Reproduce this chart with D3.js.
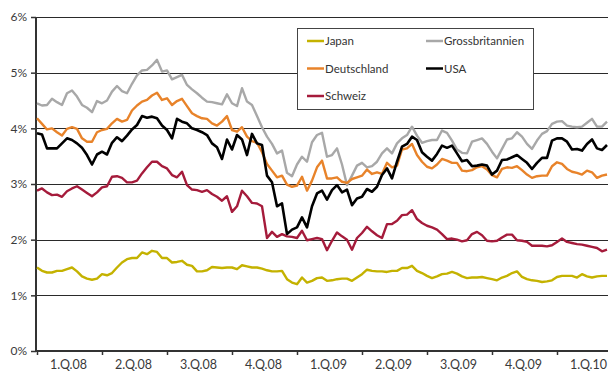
<!DOCTYPE html>
<html>
<head>
<meta charset="utf-8">
<script src="https://cdnjs.cloudflare.com/ajax/libs/d3/7.8.5/d3.min.js"></script>
<style>
  body { margin: 0; background: #fff; }
  svg { display: block; font-family: Lato, "Open Sans", sans-serif; }
</style>
</head>
<body>
<div id="chart"></div>
<script>
// weekly yields in %, first week of Jan 2008 to mid March 2010
const quarters = ["1.Q.08", "2.Q.08", "3.Q.08", "4.Q.08", "1.Q.09", "2.Q.09", "3.Q.09", "4.Q.09", "1.Q.10"];
const yTicks = [0, 1, 2, 3, 4, 5, 6];

const japan = [
  1.50,1.44,1.41,1.41,1.44,1.44,1.47,1.50,1.43,1.34,1.30,1.28,1.30,1.38,1.36,1.40,1.50,1.59,1.65,
  1.67,1.67,1.77,1.74,1.80,1.78,1.67,1.67,1.59,1.60,1.62,1.55,1.53,1.43,1.43,1.45,1.51,1.50,1.49,
  1.50,1.50,1.47,1.54,1.52,1.50,1.50,1.48,1.45,1.43,1.43,1.44,1.29,1.23,1.20,1.32,1.23,1.26,1.31,
  1.32,1.26,1.27,1.29,1.30,1.30,1.26,1.32,1.38,1.46,1.44,1.43,1.43,1.42,1.44,1.44,1.49,1.49,1.53,
  1.44,1.40,1.35,1.31,1.34,1.38,1.39,1.42,1.39,1.34,1.31,1.32,1.32,1.33,1.31,1.29,1.27,1.32,1.35,
  1.40,1.43,1.33,1.29,1.27,1.26,1.24,1.25,1.27,1.33,1.35,1.35,1.35,1.32,1.38,1.34,1.32,1.34,1.35,1.35
];
const grossbritannien = [
  4.45,4.41,4.42,4.53,4.47,4.42,4.63,4.68,4.57,4.42,4.37,4.29,4.49,4.45,4.50,4.66,4.76,4.67,4.63,
  4.80,4.95,5.04,5.05,5.13,5.23,5.02,5.04,4.88,4.92,4.96,4.78,4.70,4.63,4.55,4.48,4.47,4.45,4.43,
  4.61,4.45,4.40,4.72,4.48,4.42,4.22,4.02,3.85,3.72,3.55,3.60,3.20,3.14,3.35,3.49,3.40,3.75,3.88,
  3.92,3.49,3.52,3.64,3.35,2.98,3.15,3.33,3.38,3.30,3.32,3.40,3.55,3.64,3.55,3.73,3.82,3.88,4.03,
  3.87,3.74,3.77,3.79,3.79,3.96,3.92,3.78,3.62,3.56,3.55,3.76,3.79,3.82,3.72,3.58,3.46,3.63,3.80,
  3.82,3.93,3.85,3.72,3.63,3.78,3.90,3.95,4.08,4.12,4.13,4.05,4.03,4.02,4.03,4.10,4.17,4.03,4.03,4.12
];
const deutschland = [
  4.18,4.08,3.98,4.00,3.93,3.87,3.99,4.02,3.99,3.82,3.76,3.76,3.93,3.97,3.99,4.09,4.17,4.12,4.15,
  4.32,4.41,4.48,4.51,4.59,4.64,4.51,4.54,4.42,4.49,4.53,4.40,4.27,4.22,4.18,4.17,4.09,4.05,4.12,
  4.22,3.97,3.94,4.02,3.85,3.77,3.74,3.57,3.36,3.24,3.12,3.15,2.99,2.95,2.97,3.13,2.88,3.06,3.30,
  3.42,3.10,3.10,3.12,3.04,3.02,3.09,3.12,3.15,3.26,3.18,3.21,3.18,3.38,3.30,3.33,3.62,3.64,3.72,
  3.52,3.40,3.31,3.28,3.35,3.45,3.42,3.38,3.38,3.24,3.23,3.25,3.30,3.32,3.26,3.16,3.12,3.27,3.30,
  3.29,3.32,3.25,3.17,3.11,3.14,3.15,3.15,3.32,3.39,3.36,3.27,3.22,3.20,3.17,3.24,3.21,3.11,3.15,3.17
];
const usa = [
  3.91,3.89,3.64,3.64,3.64,3.73,3.82,3.79,3.73,3.65,3.52,3.35,3.53,3.58,3.53,3.74,3.84,3.77,3.87,
  3.98,4.06,4.22,4.19,4.21,4.18,4.05,3.97,3.82,4.17,4.12,4.09,4.00,3.97,3.93,3.88,3.73,3.66,3.45,
  3.80,3.62,3.88,3.80,3.52,3.90,3.73,3.70,3.15,3.03,2.60,2.65,2.10,2.18,2.22,2.40,2.22,2.60,2.83,
  2.88,2.72,2.89,2.98,2.85,2.90,2.62,2.74,2.77,2.91,2.86,2.95,3.16,3.28,3.10,3.40,3.67,3.72,3.85,
  3.79,3.57,3.49,3.42,3.54,3.69,3.65,3.69,3.55,3.41,3.43,3.32,3.33,3.35,3.33,3.17,3.24,3.43,3.44,
  3.48,3.52,3.45,3.38,3.27,3.38,3.47,3.47,3.78,3.82,3.82,3.76,3.62,3.63,3.60,3.72,3.80,3.64,3.61,3.70
];
const schweiz = [
  2.88,2.92,2.85,2.80,2.81,2.77,2.87,2.92,2.96,2.90,2.84,2.78,2.85,2.94,2.96,3.13,3.14,3.11,3.03,
  3.03,3.06,3.19,3.30,3.40,3.40,3.32,3.28,3.16,3.12,3.22,2.98,2.90,2.89,2.86,2.89,2.82,2.77,2.70,
  2.78,2.50,2.60,2.88,2.78,2.66,2.65,2.60,2.03,2.14,2.05,2.10,2.06,2.05,2.03,2.16,1.99,2.01,2.03,
  2.01,1.81,1.98,2.13,2.06,2.00,1.82,2.03,2.12,2.23,2.15,2.08,2.03,2.28,2.28,2.34,2.44,2.45,2.53,
  2.37,2.30,2.25,2.22,2.18,2.10,2.01,2.02,2.00,1.97,1.99,2.10,2.14,2.08,1.98,1.97,1.98,2.04,2.09,
  2.09,1.99,1.98,1.96,1.89,1.89,1.89,1.88,1.90,1.96,2.02,1.96,1.94,1.92,1.91,1.89,1.87,1.85,1.79,1.82
];

const W = 608, H = 372;
const plot = { left: 36, right: 608, top: 17, bottom: 351 };

const svg = d3.select("#chart").append("svg")
    .attr("width", W)
    .attr("height", H);

// 13 weeks per quarter
const x = d3.scaleLinear().domain([0, 13 * quarters.length]).range([plot.left + 1, plot.left + 1 + 65 * quarters.length]);
const xBand = d3.scaleBand().domain(quarters).range([plot.left, plot.left + 65 * quarters.length]);
const y = d3.scaleLinear().domain([0, 6]).range([plot.bottom, plot.top]);

// gridlines
svg.append("g")
  .selectAll("line")
  .data(yTicks.filter(d => d > 0))
  .enter().append("line")
    .attr("x1", plot.left).attr("x2", plot.right)
    .attr("y1", d => Math.round(y(d)) + 0.5)
    .attr("y2", d => Math.round(y(d)) + 0.5)
    .attr("stroke", "#2a2a2a")
    .attr("stroke-width", 1);

// y axis
const yAxis = svg.append("g")
    .attr("transform", `translate(${plot.left},0)`)
    .call(d3.axisLeft(y).tickValues(yTicks).tickFormat(d => d + "%").tickSize(5).tickPadding(4));
yAxis.select(".domain").remove();
yAxis.selectAll("line").attr("stroke", "#333").attr("stroke-width", 1.5);
yAxis.selectAll("text").attr("font-size", 12).attr("fill", "#3a3a3a").attr("font-family", "Lato, sans-serif");

// x axis ticks at quarter boundaries
const xAxis = svg.append("g")
    .attr("transform", `translate(0,${plot.bottom})`)
    .call(d3.axisBottom(x).tickValues(d3.range(0, 13 * quarters.length, 13)).tickFormat("").tickSize(4));
xAxis.select(".domain").remove();
xAxis.selectAll("line").attr("stroke", "#333").attr("stroke-width", 1.5);

const xLabels = svg.append("g")
    .attr("transform", `translate(0,${plot.bottom})`)
    .call(d3.axisBottom(xBand).tickSize(0).tickPadding(9));
xLabels.select(".domain").remove();
xLabels.selectAll("text").attr("font-size", 12.5).attr("fill", "#3a3a3a").attr("font-family", "Lato, sans-serif");

// axis lines
svg.append("line")
    .attr("x1", plot.left).attr("x2", plot.left)
    .attr("y1", plot.top).attr("y2", plot.bottom + 1)
    .attr("stroke", "#333").attr("stroke-width", 2);
svg.append("line")
    .attr("x1", plot.left).attr("x2", plot.right)
    .attr("y1", plot.bottom).attr("y2", plot.bottom)
    .attr("stroke", "#333").attr("stroke-width", 2);

const series = [
  { name: "Grossbritannien", values: grossbritannien, color: "#a8a8a8" },
  { name: "Deutschland", values: deutschland, color: "#e8832a" },
  { name: "USA", values: usa, color: "#000000" },
  { name: "Schweiz", values: schweiz, color: "#a51b3b" },
  { name: "Japan", values: japan, color: "#c4b200" }
];

const line = d3.line()
    .x((d, i) => x(i))
    .y(d => y(d));

svg.append("g")
  .selectAll("path")
  .data(series)
  .enter().append("path")
    .attr("d", d => line(d.values))
    .attr("fill", "none")
    .attr("stroke", d => d.color)
    .attr("stroke-width", d => d.name === "USA" ? 2.6 : 2.4)
    .attr("stroke-linejoin", "round");

// legend
const legend = svg.append("g").attr("transform", "translate(297,28)");
legend.append("rect")
    .attr("x", 0.5).attr("y", 0.5)
    .attr("width", 236).attr("height", 81)
    .attr("fill", "#fff")
    .attr("stroke", "#444")
    .attr("stroke-width", 1);

const legendOrder = ["Japan", "Grossbritannien", "Deutschland", "USA", "Schweiz"];
const legendItems = legend.selectAll(".item")
  .data(legendOrder.map(n => series.find(s => s.name === n)))
  .enter().append("g")
    .attr("class", "item")
    .attr("transform", (d, i) => `translate(${i % 2 === 0 ? 10 : 129},${13 + Math.floor(i / 2) * 27.5})`);

legendItems.append("line")
    .attr("x1", 0).attr("x2", 17)
    .attr("y1", 0).attr("y2", 0)
    .attr("stroke", d => d.color)
    .attr("stroke-width", 2.5);

legendItems.append("text")
    .attr("x", 18)
    .attr("y", 0)
    .attr("dy", "0.35em")
    .attr("font-size", 11.5)
    .attr("fill", "#333")
    .text(d => d.name);
</script>
</body>
</html>
